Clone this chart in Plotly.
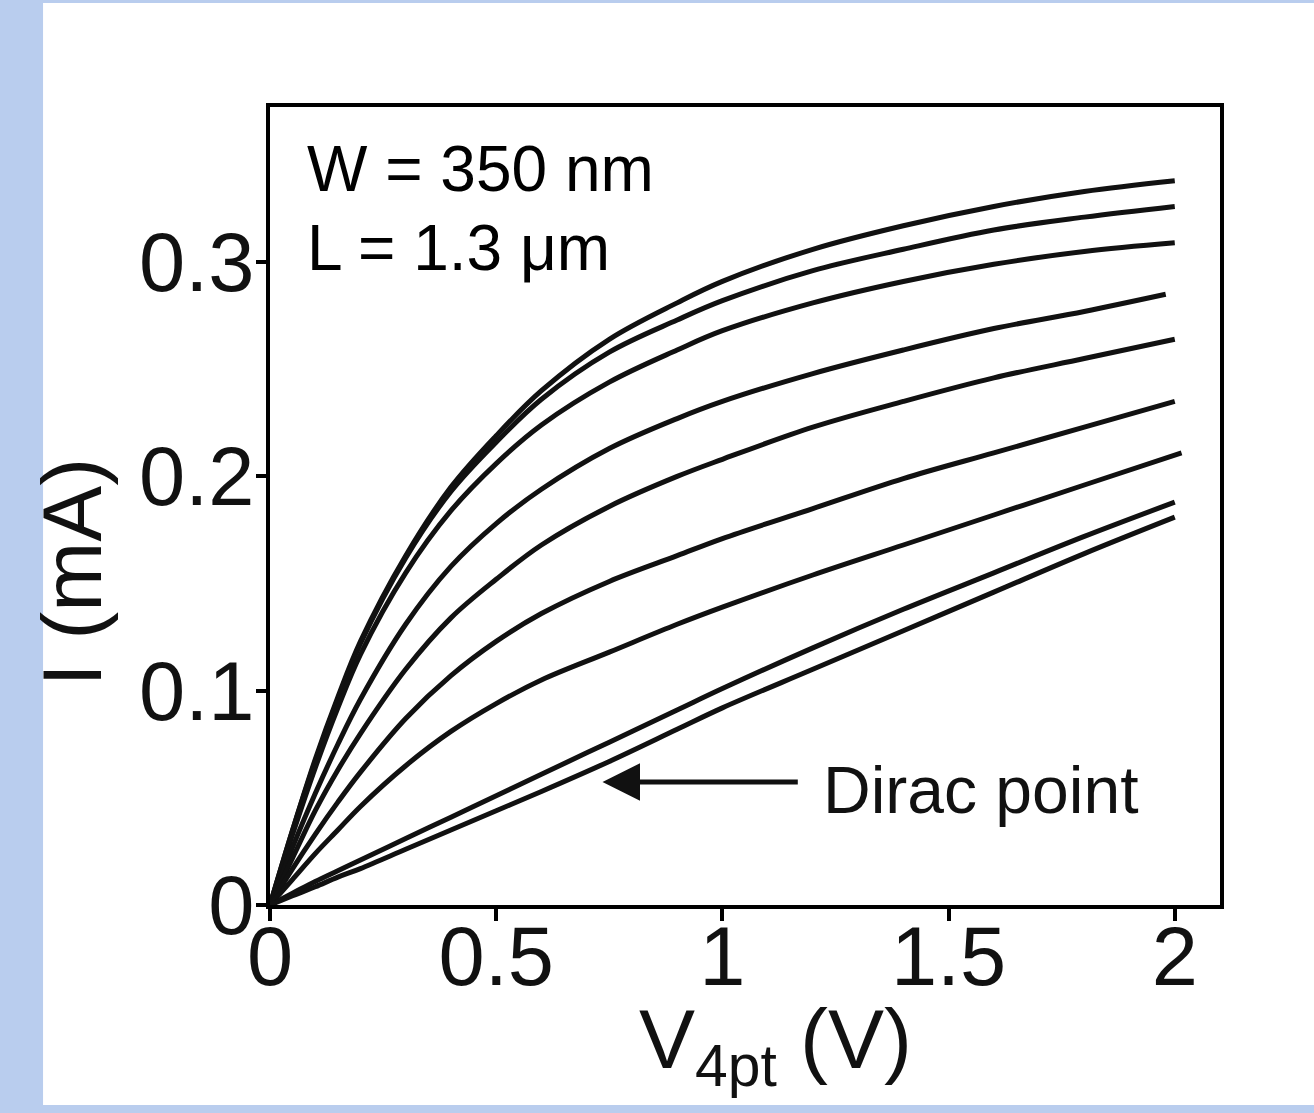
import plotly.graph_objects as go

# ---- data ----
V = [0, 0.05, 0.1, 0.15, 0.2, 0.3, 0.4, 0.5, 0.6, 0.75, 0.9, 1.0, 1.2, 1.4, 1.6, 1.8, 2.0]
V_c4 = [0, 0.05, 0.1, 0.15, 0.2, 0.3, 0.4, 0.5, 0.6, 0.75, 0.9, 1.0, 1.2, 1.4, 1.6, 1.8, 1.98]
V_c7 = [0, 0.05, 0.1, 0.15, 0.2, 0.3, 0.4, 0.5, 0.6, 0.75, 0.9, 1.0, 1.2, 1.4, 1.6, 1.8, 2.015]

I1 = [0, 0.035, 0.068, 0.097, 0.123, 0.163, 0.195, 0.219, 0.240, 0.264, 0.281, 0.291, 0.306, 0.317, 0.326, 0.333, 0.338]
I2 = [0, 0.035, 0.067, 0.096, 0.122, 0.162, 0.193, 0.216, 0.236, 0.258, 0.273, 0.282, 0.296, 0.306, 0.315, 0.321, 0.326]
I3 = [0, 0.033, 0.064, 0.092, 0.117, 0.155, 0.184, 0.206, 0.224, 0.244, 0.259, 0.268, 0.281, 0.291, 0.299, 0.305, 0.309]
I4 = [0, 0.027, 0.052, 0.075, 0.096, 0.131, 0.158, 0.178, 0.194, 0.213, 0.227, 0.235, 0.248, 0.259, 0.269, 0.277, 0.285]
I5 = [0, 0.022, 0.044, 0.063, 0.080, 0.110, 0.134, 0.152, 0.168, 0.186, 0.200, 0.208, 0.223, 0.235, 0.246, 0.255, 0.264]
I6 = [0, 0.017, 0.033, 0.048, 0.062, 0.087, 0.107, 0.123, 0.136, 0.151, 0.163, 0.171, 0.185, 0.199, 0.211, 0.223, 0.235]
I7 = [0, 0.012, 0.024, 0.035, 0.046, 0.065, 0.081, 0.094, 0.105, 0.118, 0.131, 0.139, 0.154, 0.168, 0.182, 0.196, 0.211]
I8 = [0, 0.0055, 0.011, 0.016, 0.021, 0.031, 0.041, 0.051, 0.061, 0.076, 0.091, 0.101, 0.120, 0.138, 0.155, 0.172, 0.188]
I9 = [0, 0.0043, 0.0085, 0.013, 0.017, 0.026, 0.035, 0.044, 0.053, 0.067, 0.082, 0.092, 0.110, 0.128, 0.146, 0.164, 0.181]

curves = [(V, I1), (V, I2), (V, I3), (V_c4, I4), (V, I5), (V, I6), (V_c7, I7), (V, I8), (V, I9)]

x_ticks = [0, 0.5, 1, 1.5, 2]
x_ticktext = ["0", "0.5", "1", "1.5", "2"]
y_ticks = [0, 0.1, 0.2, 0.3]
y_ticktext = ["0", "0.1", "0.2", "0.3"]

FONT = "Liberation Sans, Arial, Helvetica, sans-serif"

fig = go.Figure()
for xs, ys in curves:
    fig.add_trace(go.Scatter(x=xs, y=ys, mode="lines",
                             line=dict(color="#111111", width=5, shape="spline", smoothing=1.0),
                             showlegend=False, hoverinfo="skip"))

fig.update_layout(
    width=1314, height=1113,
    margin=dict(l=270, r=94, t=107, b=208),
    paper_bgcolor="#b9cdee",
    plot_bgcolor="white",
    font=dict(family=FONT, color="black"),
    showlegend=False,
    shapes=[dict(type="rect", xref="paper", yref="paper",
                 x0=-0.2389, x1=1.2, y0=-0.2506, y1=1.1303,
                 fillcolor="white", line=dict(width=0), layer="below")],
)

fig.update_xaxes(range=[0, 2.10], tickvals=x_ticks, ticktext=x_ticktext,
                 showline=True, linecolor="black", linewidth=4, mirror=True,
                 ticks="outside", ticklen=12, tickwidth=4, tickcolor="black",
                 ticklabelstandoff=-36,
                 tickfont=dict(size=83, family=FONT, color="#111"),
                 showgrid=False, zeroline=False)
fig.update_yaxes(range=[0, 0.3724], tickvals=y_ticks, ticktext=y_ticktext,
                 showline=True, linecolor="black", linewidth=4, mirror=True,
                 ticks="outside", ticklen=10, tickwidth=4, tickcolor="black",
                 ticklabelstandoff=-15,
                 tickfont=dict(size=83, family=FONT, color="#111"),
                 showgrid=False, zeroline=False)

annotations = [
    dict(text="W = 350 nm", x=0.078, y=0.3435, xref="x", yref="y", xanchor="left", yanchor="middle",
         showarrow=False, font=dict(size=64, family=FONT, color="black")),
    dict(text="L = 1.3 μm", x=0.078, y=0.3065, xref="x", yref="y", xanchor="left", yanchor="middle",
         showarrow=False, font=dict(size=64, family=FONT, color="black")),
    dict(text="Dirac point", x=1.219, y=0.0537, xref="x", yref="y", xanchor="left", yanchor="middle",
         showarrow=False, font=dict(size=66, family=FONT, color="#111")),
    dict(text="", x=0.735, y=0.0574, ax=1.17, ay=0.0574, xref="x", yref="y", axref="x", ayref="y",
         showarrow=True, arrowhead=2, arrowsize=1.5, arrowwidth=5, arrowcolor="#111"),
    dict(text="I (mA)", textangle=-90, x=-0.208, y=0.4173, xref="paper", yref="paper",
         xanchor="center", yanchor="middle", showarrow=False,
         font=dict(size=84, family=FONT, color="#111")),
    dict(text="V<sub>4pt</sub> (V)", x=0.532, y=-0.175, xref="paper", yref="paper",
         xanchor="center", yanchor="middle", showarrow=False,
         font=dict(size=84, family=FONT, color="#111")),
]
fig.update_layout(annotations=annotations)

fig.write_html("out.html")
